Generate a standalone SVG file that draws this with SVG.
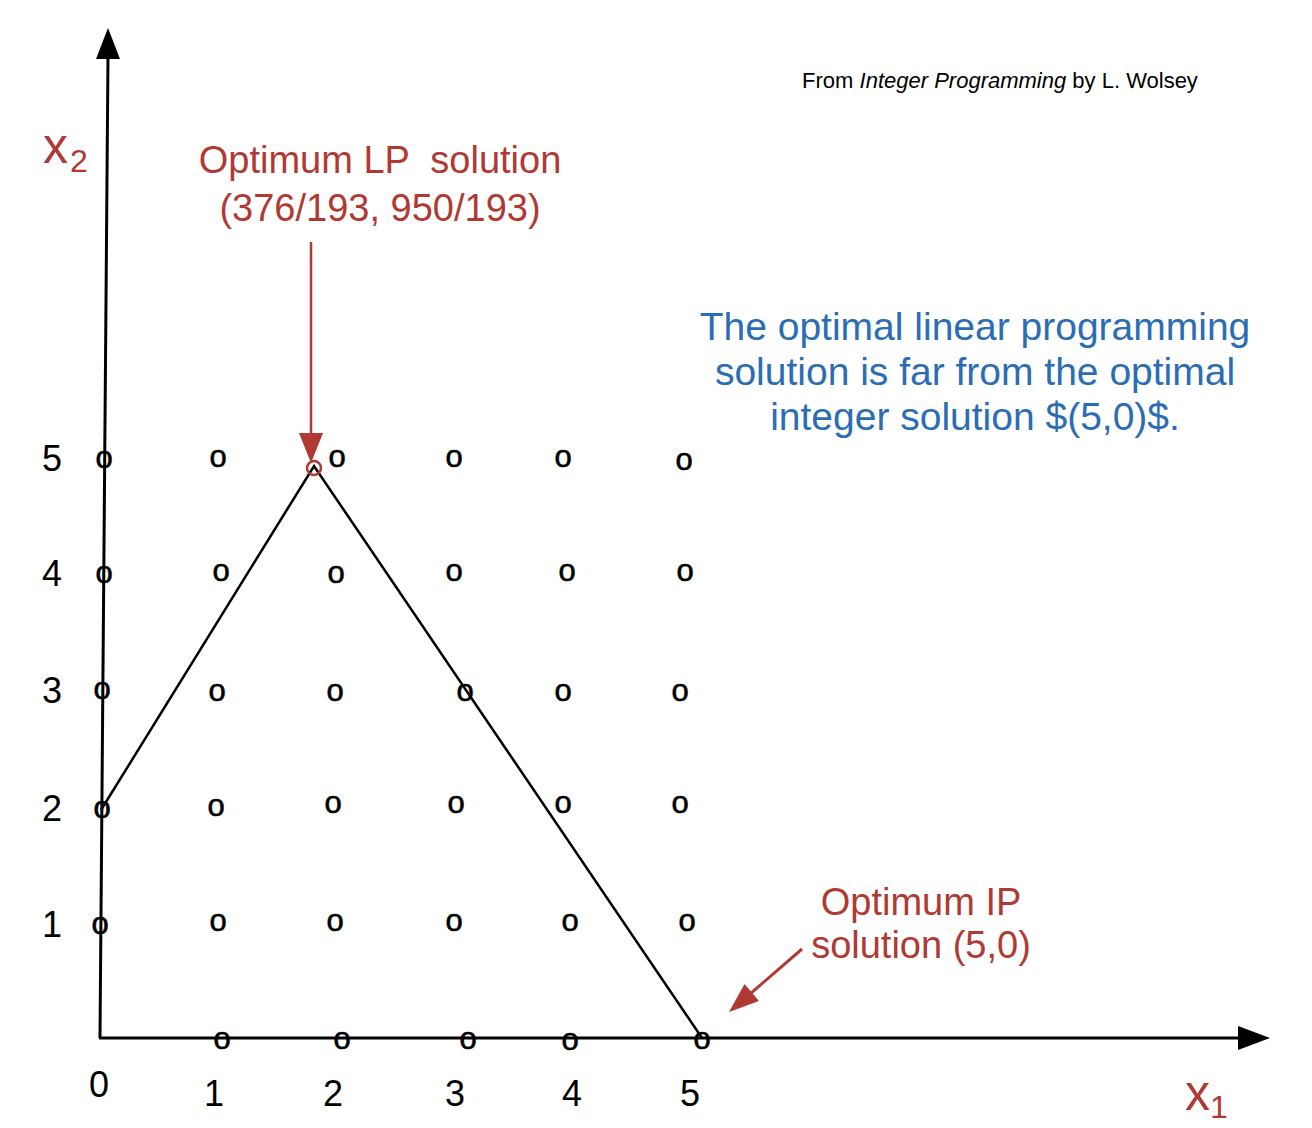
<svg xmlns="http://www.w3.org/2000/svg" width="1312" height="1128" viewBox="0 0 1312 1128">
<style>
text{font-family:"Liberation Sans",Arial,sans-serif}
.pt{font-size:31px;fill:#000;text-anchor:middle;stroke:#000;stroke-width:0.6}
.tick{font-size:36px;fill:#000;text-anchor:middle}
.red{fill:#b03a33}
.blue{fill:#2a6db5}
.ln{stroke:#000;stroke-width:2.5;fill:none}
.ax{stroke:#000;stroke-width:3;fill:none}
</style>
<rect width="1312" height="1128" fill="#fff"/>
<g id="connectors">
<line class="ax" x1="100" y1="1038" x2="108" y2="56"/>
<polygon points="108,28 96,59 120,59" fill="#000"/>
<line class="ax" x1="99" y1="1038" x2="1242" y2="1038"/>
<polygon points="1270,1038 1238,1026 1238,1050" fill="#000"/>
<polyline class="ln" points="101,810 314,466 702,1038"/>
<line x1="311" y1="242" x2="311" y2="436" stroke="#b03a33" stroke-width="2.5"/>
<polygon points="299,433 323,433 311,463" fill="#b03a33"/>
<line x1="802" y1="949" x2="750" y2="994" stroke="#b03a33" stroke-width="3"/>
<polygon points="729,1012 744.5,984 759,1001" fill="#b03a33"/>
</g>
<g id="points">
<text class="pt" x="104" y="468">o</text>
<text class="pt" x="218" y="467">o</text>
<text class="pt" x="337" y="467">o</text>
<text class="pt" x="454" y="467">o</text>
<text class="pt" x="563" y="467">o</text>
<text class="pt" x="684" y="470">o</text>
<text class="pt" x="104" y="583">o</text>
<text class="pt" x="221" y="581">o</text>
<text class="pt" x="336" y="583">o</text>
<text class="pt" x="454" y="581">o</text>
<text class="pt" x="567" y="581">o</text>
<text class="pt" x="685" y="581">o</text>
<text class="pt" x="102" y="699">o</text>
<text class="pt" x="217" y="701">o</text>
<text class="pt" x="335" y="701">o</text>
<text class="pt" x="465" y="701">o</text>
<text class="pt" x="563" y="701">o</text>
<text class="pt" x="680" y="701">o</text>
<text class="pt" x="102" y="818">o</text>
<text class="pt" x="216" y="816">o</text>
<text class="pt" x="333" y="813">o</text>
<text class="pt" x="456" y="813">o</text>
<text class="pt" x="563" y="813">o</text>
<text class="pt" x="680" y="813">o</text>
<text class="pt" x="100" y="934">o</text>
<text class="pt" x="218" y="931">o</text>
<text class="pt" x="335" y="931">o</text>
<text class="pt" x="454" y="931">o</text>
<text class="pt" x="570" y="931">o</text>
<text class="pt" x="687" y="931">o</text>
<text class="pt" x="222" y="1049">o</text>
<text class="pt" x="342" y="1049">o</text>
<text class="pt" x="468" y="1049">o</text>
<text class="pt" x="570" y="1050">o</text>
<text class="pt" x="702" y="1049">o</text>
<circle cx="314" cy="468" r="7" fill="none" stroke="#b03a33" stroke-width="2.5"/>
</g>
<g id="ticks">
<text class="tick" x="52" y="471">5</text>
<text class="tick" x="52" y="586">4</text>
<text class="tick" x="52" y="703">3</text>
<text class="tick" x="52" y="821">2</text>
<text class="tick" x="52" y="937">1</text>
<text class="tick" x="99" y="1097">0</text>
<text class="tick" x="214" y="1106">1</text>
<text class="tick" x="333" y="1106">2</text>
<text class="tick" x="455" y="1106">3</text>
<text class="tick" x="572" y="1106">4</text>
<text class="tick" x="690" y="1106">5</text>
</g>
<g id="x2-label">
<text class="red" x="43" y="163" font-size="50">x</text>
<text class="red" x="70" y="172" font-size="32">2</text>
</g>
<g id="x1-label">
<text class="red" x="1185" y="1110" font-size="50">x</text>
<text class="red" x="1210" y="1118" font-size="32">1</text>
</g>
<g id="source-note">
<text x="1000" y="88" font-size="22" text-anchor="middle" fill="#000">From <tspan font-style="italic">Integer Programming</tspan> by L. Wolsey</text>
</g>
<g id="lp-label">
<text class="red" x="380" y="173" font-size="38" text-anchor="middle" xml:space="preserve">Optimum LP  solution</text>
<text class="red" x="380" y="221" font-size="38" text-anchor="middle">(376/193, 950/193)</text>
</g>
<g id="note">
<text class="blue" x="975" y="340" font-size="39" text-anchor="middle">The optimal linear programming</text>
<text class="blue" x="975" y="385" font-size="39" text-anchor="middle">solution is far from the optimal</text>
<text class="blue" x="975" y="430" font-size="39" text-anchor="middle">integer solution $(5,0)$.</text>
</g>
<g id="ip-label">
<text class="red" x="921" y="915" font-size="38" text-anchor="middle">Optimum IP</text>
<text class="red" x="921" y="958" font-size="38" text-anchor="middle">solution (5,0)</text>
</g>
</svg>
